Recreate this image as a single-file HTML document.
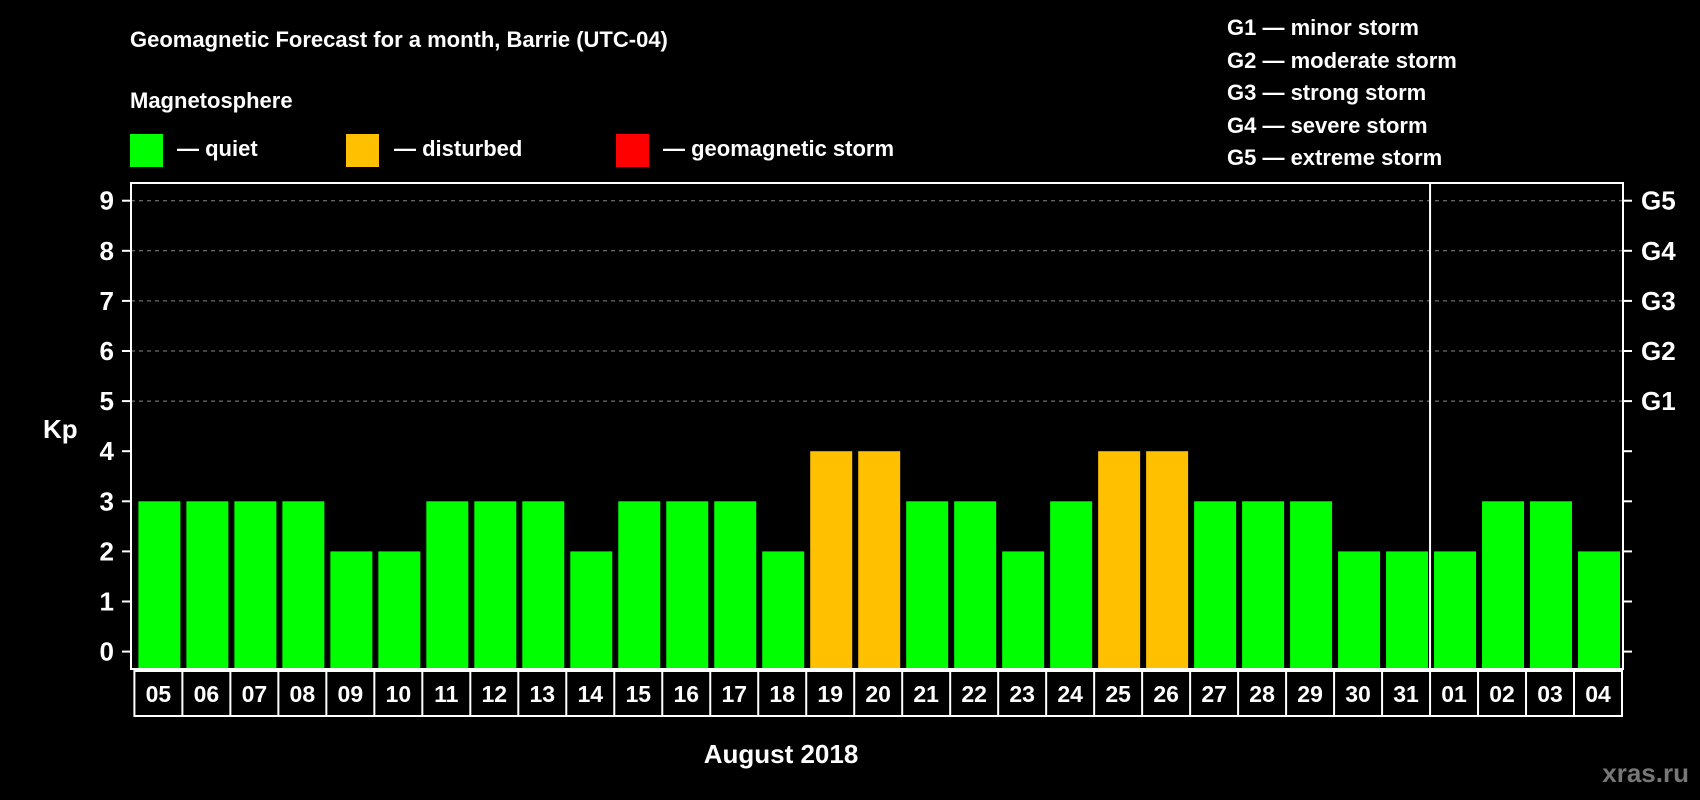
<!DOCTYPE html>
<html><head><meta charset="utf-8"><style>
html,body{margin:0;padding:0;background:#000;}
svg{display:block;font-family:"Liberation Sans",sans-serif;font-weight:bold;}
</style></head><body>
<svg id="chart" width="1700" height="800" viewBox="0 0 1700 800" xmlns="http://www.w3.org/2000/svg">
<rect width="1700" height="800" fill="#000"/>
<text x="130" y="47" fill="#fff" font-size="22">Geomagnetic Forecast for a month, Barrie (UTC-04)</text>
<text x="130" y="108" fill="#fff" font-size="22">Magnetosphere</text>
<g><rect x="130" y="134" width="33" height="33" fill="#00ff00"/><text x="177" y="156" fill="#fff" font-size="22">— quiet</text></g>
<g><rect x="346" y="134" width="33" height="33" fill="#ffc000"/><text x="394" y="156" fill="#fff" font-size="22">— disturbed</text></g>
<g><rect x="616" y="134" width="33" height="33" fill="#ff0000"/><text x="663" y="156" fill="#fff" font-size="22">— geomagnetic storm</text></g>
<g font-size="22" fill="#fff">
<text x="1227" y="35">G1 — minor storm</text>
<text x="1227" y="68">G2 — moderate storm</text>
<text x="1227" y="100">G3 — strong storm</text>
<text x="1227" y="133">G4 — severe storm</text>
<text x="1227" y="165">G5 — extreme storm</text>
</g>
<text x="43" y="438" fill="#fff" font-size="26">Kp</text>
<g id="grid"></g><g id="bars"></g><g id="axes"></g><g id="xlabels"></g>
<text x="781" y="763" fill="#fff" font-size="26" text-anchor="middle">August 2018</text>
<text x="1689" y="782" fill="#777" font-size="26" text-anchor="end">xras.ru</text>
</svg>
<script>
const days = ["05","06","07","08","09","10","11","12","13","14","15","16","17","18","19","20","21","22","23","24","25","26","27","28","29","30","31","01","02","03","04"];
const kp = [3,3,3,3,2,2,3,3,3,2,3,3,3,2,4,4,3,3,2,3,4,4,3,3,3,2,2,2,3,3,2];
const yTicks = [0,1,2,3,4,5,6,7,8,9];
const gLabels = ["G1","G2","G3","G4","G5"];
const gLevels = [5,6,7,8,9];
const monthBreakIndex = 27;

const NS="http://www.w3.org/2000/svg";
const L=131,R=1623,T=183,B=669;
const y0=651.6,unit=50.1;
const y=v=>y0-v*unit;
const bandL=134.4,pitch=(1622-134.4)/days.length;
const x=i=>bandL+i*pitch;
function mk(tag,attrs,parent){const e=document.createElementNS(NS,tag);for(const k in attrs)e.setAttribute(k,attrs[k]);parent.appendChild(e);return e;}
const grid=document.getElementById('grid'),bars=document.getElementById('bars'),axes=document.getElementById('axes'),xl=document.getElementById('xlabels');
gLevels.forEach(v=>{
  const l=mk('line',{x1:L,x2:R,y1:y(v),y2:y(v),stroke:'#888','stroke-width':1,'stroke-dasharray':'4,4'},grid);
  
  
});
kp.forEach((v,i)=>{
  const r=mk('rect',{x:x(i)+4,y:y(v),width:pitch-6,height:B-y(v),fill:v>=5?'#ff0000':(v>=4?'#ffc000':'#00ff00')},bars);
  
  
});
const box=mk('rect',{x:L,y:T,width:R-L,height:B-T,fill:'none',stroke:'#fff','stroke-width':2},axes);


const br=mk('line',{x1:x(monthBreakIndex),x2:x(monthBreakIndex),y1:T,y2:B,stroke:'#fff','stroke-width':2},axes);


yTicks.forEach(v=>{
  mk('line',{x1:L-9,x2:L,y1:y(v),y2:y(v),stroke:'#fff','stroke-width':2},axes);
  mk('line',{x1:R,x2:R+9,y1:y(v),y2:y(v),stroke:'#fff','stroke-width':2},axes);
  const t=mk('text',{x:114,y:y(v)+9,fill:'#fff','font-size':26,'text-anchor':'end'},axes);
  t.textContent=v;
  
  
});
gLabels.forEach((g,i)=>{
  const t=mk('text',{x:1641,y:y(gLevels[i])+9,fill:'#fff','font-size':26},axes);
  t.textContent=g;
  
  
});
const lb=mk('rect',{x:bandL,y:B+2,width:1622-bandL,height:45,fill:'none',stroke:'#fff','stroke-width':2},xl);


days.forEach((d,i)=>{
  if(i>0) mk('line',{x1:x(i),x2:x(i),y1:B+2,y2:B+47,stroke:'#fff','stroke-width':2},xl);
  const t=mk('text',{x:x(i)+pitch/2,y:B+33,fill:'#fff','font-size':23,'text-anchor':'middle'},xl);
  t.textContent=d;
  
  
});
</script>
</body></html>
